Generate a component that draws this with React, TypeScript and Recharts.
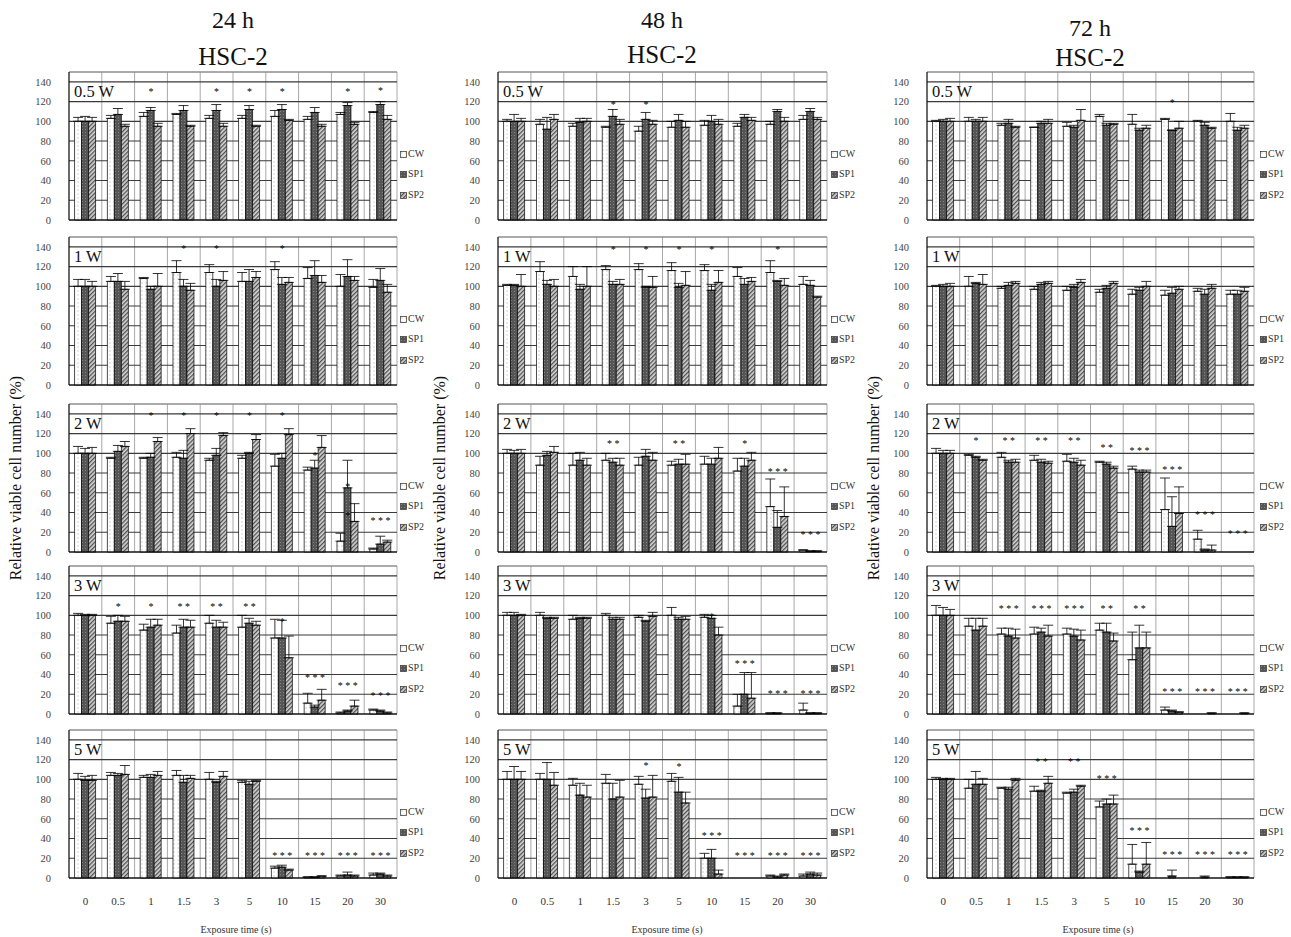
import React from "react";
import {
  BarChart,
  Bar,
  XAxis,
  YAxis,
  CartesianGrid,
  ErrorBar,
  ReferenceDot,
  ReferenceLine,
} from "recharts";

const SERIF = '"Liberation Serif", "Times New Roman", serif';

const times = ["0", "0.5", "1", "1.5", "3", "5", "10", "15", "20", "30"];
const seriesNames = ["CW", "SP1", "SP2"];
const yTicks = [0, 20, 40, 60, 80, 100, 120, 140];
const powers = ["0.5 W", "1 W", "2 W", "3 W", "5 W"];
const hours = ["24 h", "48 h", "72 h"];

// values: [CW, SP1, SP2] per exposure time; errors are the upper SD bars
// ---- 24 h ----
const v24_05 = [
  [100, 103, 105, 107, 103, 103, 105, 102, 107, 109],
  [100, 107, 111, 111, 111, 112, 112, 109, 116, 117],
  [100, 95, 95, 95, 95, 95, 101, 95, 97, 102],
];
const e24_05 = [
  [4, 3, 4, 1, 3, 3, 6, 3, 2, 1],
  [5, 6, 3, 5, 6, 4, 5, 5, 3, 3],
  [4, 2, 3, 1, 3, 1, 1, 2, 2, 4],
];
const s24_05: [string, number, string][] = [
  ["1", 130, "*"], ["3", 130, "*"], ["5", 130, "*"], ["10", 130, "*"], ["20", 130, "*"], ["30", 131, "*"],
];

const v24_1 = [
  [100, 105, 108, 114, 114, 105, 117, 108, 100, 99],
  [100, 105, 97, 100, 100, 105, 102, 111, 110, 106],
  [100, 97, 100, 96, 106, 109, 104, 104, 106, 94],
];
const e24_1 = [
  [7, 5, 1, 12, 8, 9, 8, 11, 12, 8],
  [7, 8, 3, 7, 7, 12, 7, 15, 17, 12],
  [5, 8, 13, 7, 9, 6, 5, 7, 4, 8],
];
const s24_1: [string, number, string][] = [["1.5", 138, "*"], ["3", 138, "*"], ["10", 138, "*"]];

const v24_2 = [
  [100, 95, 95, 96, 93, 95, 87, 83, 11, 3],
  [100, 102, 96, 95, 98, 100, 95, 85, 65, 8],
  [100, 107, 112, 120, 118, 114, 119, 106, 31, 10],
];
const e24_2 = [
  [7, 1, 1, 5, 2, 3, 12, 3, 8, 1],
  [5, 6, 4, 8, 7, 1, 5, 8, 28, 8],
  [6, 5, 4, 5, 3, 5, 6, 12, 18, 2],
];
const s24_2: [string, number, string][] = [
  ["1", 138, "*"], ["1.5", 138, "*"], ["3", 138, "*"], ["5", 138, "*"], ["10", 138, "*"],
  ["15", 98, "*"], ["20", 37, "*"], ["20", 66, "*"], ["30", 32, "* * *"],
];

const v24_3 = [
  [100, 92, 85, 82, 92, 88, 77, 11, 1, 4],
  [100, 94, 88, 88, 88, 92, 77, 7, 3, 3],
  [100, 94, 90, 88, 88, 90, 57, 14, 8, 1],
];
const e24_3 = [
  [2, 7, 6, 8, 8, 12, 19, 10, 1, 1],
  [1, 6, 8, 8, 7, 5, 18, 2, 1, 1],
  [1, 5, 6, 7, 5, 4, 22, 11, 6, 1],
];
const s24_3: [string, number, string][] = [
  ["0.5", 109, "*"], ["1", 109, "*"], ["1.5", 109, "*   *"], ["3", 109, "* *"], ["5", 109, "* *"],
  ["10", 94, "*"], ["15", 37, "* * *"], ["20", 29, "* * *"], ["30", 19, "* * *"],
];

const v24_5 = [
  [100, 104, 102, 104, 100, 97, 10, 1, 2, 3],
  [99, 104, 102, 97, 97, 95, 11, 1, 3, 4],
  [99, 105, 104, 101, 103, 98, 8, 2, 2, 2],
];
const e24_5 = [
  [6, 3, 2, 5, 7, 2, 2, 0, 1, 2],
  [4, 2, 3, 7, 1, 3, 2, 0, 3, 1],
  [5, 9, 4, 3, 5, 1, 1, 0, 1, 1],
];
const s24_5: [string, number, string][] = [
  ["10", 23, "* * *"], ["15", 23, "* * *"], ["20", 23, "* * *"], ["30", 23, "* * *"],
];

// ---- 48 h ----
const v48_05 = [
  [100, 97, 95, 94, 90, 94, 96, 95, 97, 102],
  [100, 92, 99, 105, 102, 101, 100, 104, 110, 110],
  [100, 102, 100, 97, 97, 94, 97, 101, 100, 102],
];
const e48_05 = [
  [2, 5, 3, 1, 5, 6, 5, 3, 3, 4],
  [7, 12, 4, 7, 7, 6, 6, 3, 2, 3],
  [3, 5, 3, 5, 4, 6, 5, 3, 4, 2],
];
const s48_05: [string, number, string][] = [["1.5", 117, "*"], ["3", 117, "*"]];

const v48_1 = [
  [101, 115, 110, 117, 117, 116, 116, 110, 114, 102],
  [101, 102, 97, 102, 99, 99, 96, 102, 105, 101],
  [100, 100, 100, 102, 99, 101, 104, 105, 101, 89],
];
const e48_1 = [
  [1, 10, 10, 4, 6, 8, 6, 9, 12, 8],
  [1, 4, 5, 3, 1, 4, 6, 6, 1, 5],
  [12, 7, 20, 5, 11, 14, 12, 4, 7, 1],
];
const s48_1: [string, number, string][] = [
  ["1.5", 137, "*"], ["3", 137, "*"], ["5", 137, "*"], ["10", 137, "*"], ["20", 137, "*"],
];

const v48_2 = [
  [100, 88, 88, 93, 88, 88, 89, 82, 46, 2],
  [100, 98, 93, 91, 97, 89, 89, 87, 25, 1],
  [100, 101, 88, 88, 93, 89, 95, 93, 36, 1],
];
const e48_2 = [
  [4, 9, 12, 7, 8, 4, 8, 13, 28, 0],
  [3, 4, 8, 4, 7, 5, 6, 8, 17, 0],
  [4, 6, 7, 7, 8, 10, 11, 8, 30, 0],
];
const s48_2: [string, number, string][] = [
  ["1.5", 110, "* *"], ["5", 110, "* *"], ["15", 110, "*"], ["20", 82, "* * *"], ["30", 18, "* * *"],
];

const v48_3 = [
  [100, 100, 96, 100, 98, 100, 98, 8, 1, 4],
  [100, 97, 97, 96, 94, 96, 97, 20, 1, 1],
  [100, 97, 97, 96, 99, 96, 80, 16, 0, 1],
];
const e48_3 = [
  [3, 3, 4, 2, 2, 8, 3, 12, 0, 7],
  [3, 1, 1, 2, 1, 2, 3, 22, 0, 0],
  [1, 1, 1, 2, 4, 3, 8, 26, 0, 0],
];
const s48_3: [string, number, string][] = [
  ["10", 99, "*"], ["15", 51, "* * *"], ["20", 21, "* * *"], ["30", 21, "* * *"],
];

const v48_5 = [
  [100, 100, 94, 96, 95, 98, 20, 0, 2, 2],
  [100, 100, 84, 80, 81, 87, 20, 0, 1, 4],
  [100, 94, 82, 82, 82, 76, 4, 0, 3, 3],
];
const e48_5 = [
  [8, 6, 7, 9, 8, 8, 5, 0, 1, 2],
  [13, 17, 12, 16, 9, 15, 9, 0, 1, 2],
  [8, 13, 12, 17, 22, 11, 4, 0, 1, 2],
];
const s48_5: [string, number, string][] = [
  ["3", 114, "*"], ["5", 113, "*"], ["10", 43, "* * *"], ["15", 23, "* * *"], ["20", 23, "* * *"], ["30", 23, "* * *"],
];

// ---- 72 h ----
const v72_05 = [
  [100, 100, 96, 94, 95, 105, 97, 102, 100, 100],
  [100, 100, 98, 98, 94, 96, 91, 91, 96, 91],
  [100, 100, 94, 98, 101, 97, 93, 93, 93, 93],
];
const e72_05 = [
  [1, 4, 2, 0, 4, 2, 10, 1, 1, 8],
  [2, 2, 4, 2, 2, 2, 2, 0, 3, 3],
  [3, 4, 1, 4, 11, 1, 3, 7, 1, 3],
];
const s72_05: [string, number, string][] = [["15", 119, "*"]];

const v72_1 = [
  [100, 100, 98, 97, 96, 94, 92, 91, 95, 92],
  [100, 103, 101, 102, 99, 98, 96, 93, 92, 92],
  [100, 102, 103, 103, 104, 103, 100, 97, 98, 95],
];
const e72_1 = [
  [1, 10, 2, 3, 4, 3, 5, 5, 3, 4],
  [2, 1, 3, 2, 3, 3, 3, 6, 5, 4],
  [3, 10, 2, 2, 3, 2, 5, 3, 4, 4],
];
const s72_1: [string, number, string][] = [];

const v72_2 = [
  [100, 98, 96, 93, 92, 91, 84, 43, 13, 0],
  [100, 96, 91, 91, 91, 89, 81, 26, 2, 0],
  [100, 93, 91, 90, 88, 85, 81, 39, 2, 0],
];
const e72_2 = [
  [5, 1, 5, 5, 7, 1, 3, 32, 9, 0],
  [3, 1, 2, 3, 4, 2, 2, 30, 1, 0],
  [3, 1, 3, 2, 5, 2, 2, 27, 5, 0],
];
const s72_2: [string, number, string][] = [
  ["0.5", 113, "*"], ["1", 113, "* *"], ["1.5", 113, "* *"], ["3", 113, "* *"], ["5", 106, "* *"],
  ["10", 103, "* * *"], ["15", 84, "* * *"], ["20", 38, "* * *"], ["30", 19, "* * *"],
];

const v72_3 = [
  [100, 89, 81, 81, 81, 85, 55, 4, 0, 0],
  [100, 85, 79, 83, 79, 83, 67, 3, 0, 0],
  [100, 89, 77, 79, 75, 74, 67, 2, 1, 1],
];
const e72_3 = [
  [10, 8, 6, 7, 6, 7, 28, 3, 0, 0],
  [8, 12, 8, 4, 7, 9, 23, 1, 0, 0],
  [6, 8, 9, 11, 10, 8, 16, 0, 0, 0],
];
const s72_3: [string, number, string][] = [
  ["1", 107, "* * *"], ["1.5", 107, "* * *"], ["3", 107, "* * *"], ["5", 107, "* *"], ["10", 107, "* *"],
  ["15", 23, "* * *"], ["20", 23, "* * *"], ["30", 23, "* * *"],
];

const v72_5 = [
  [100, 91, 91, 88, 86, 72, 14, 0, 0, 1],
  [100, 95, 90, 88, 87, 75, 6, 2, 1, 1],
  [100, 95, 99, 96, 93, 75, 14, 0, 0, 1],
];
const e72_5 = [
  [2, 9, 1, 5, 1, 6, 20, 0, 0, 0],
  [1, 13, 2, 1, 3, 5, 1, 6, 1, 0],
  [1, 6, 2, 7, 1, 9, 22, 0, 0, 0],
];
const s72_5: [string, number, string][] = [
  ["1.5", 118, "* *"], ["3", 118, "* *"], ["5", 101, "* * *"], ["10", 48, "* * *"],
  ["15", 24, "* * *"], ["20", 24, "* * *"], ["30", 24, "* * *"],
];

const columns = [
  [[v24_05, e24_05, s24_05], [v24_1, e24_1, s24_1], [v24_2, e24_2, s24_2], [v24_3, e24_3, s24_3], [v24_5, e24_5, s24_5]],
  [[v48_05, e48_05, s48_05], [v48_1, e48_1, s48_1], [v48_2, e48_2, s48_2], [v48_3, e48_3, s48_3], [v48_5, e48_5, s48_5]],
  [[v72_05, e72_05, s72_05], [v72_1, e72_1, s72_1], [v72_2, e72_2, s72_2], [v72_3, e72_3, s72_3], [v72_5, e72_5, s72_5]],
] as any[];

// layout
const COL_X = [69, 498, 927];
const COL_W = [328, 329, 327];
const ROW_TOP = [72, 237, 404, 566, 730];
const PLOT_H = 148;
const Y_W = 45;
const M_TOP = 4;
const M_RIGHT = 4;
const TITLE_X = [233, 662, 1090];
const TITLE_Y = [20, 20, 28];
const HSC_Y = [57, 55, 58];
const YLAB_X = [16, 440, 874];
const XLAB_X = [236, 667, 1098];
const LEGEND_X = [400, 831, 1260];

const FILLS = ["url(#pCW)", "url(#pSP1)", "url(#pSP2)"];
const KEYS = ["cw", "sp1", "sp2"];

function buildRows(v: number[][], e: number[][]) {
  return times.map((t, i) => ({
    time: t,
    cw: v[0][i],
    sp1: v[1][i],
    sp2: v[2][i],
    cwE: [0, e[0][i]],
    sp1E: [0, e[1][i]],
    sp2E: [0, e[2][i]],
  }));
}

const catBounds = (props: any) => {
  const o = props && props.offset;
  if (!o) return [];
  const n = times.length;
  return Array.from({ length: n + 1 }, (_, i) => o.left + (i * o.width) / n);
};

function Panel({ c, r }: { c: number; r: number }) {
  const [v, e, stars] = columns[c][r];
  const rows = buildRows(v, e);
  const last = r === powers.length - 1;
  const xh = last ? 34 : 1;
  const mb = last ? 0 : 8;
  const top = ROW_TOP[r];
  const bottom = top + PLOT_H;
  const left = COL_X[c];
  return (
    <>
      <div style={{ position: "absolute", left: left - Y_W, top: top - M_TOP }}>
        <BarChart
          width={Y_W + COL_W[c] + M_RIGHT}
          height={M_TOP + PLOT_H + xh + mb}
          data={rows}
          margin={{ top: M_TOP, right: M_RIGHT, bottom: mb, left: 0 }}
          barCategoryGap="17%"
          barGap={0}
        >
          <CartesianGrid horizontal={false} stroke="#a8a8a8" verticalCoordinatesGenerator={catBounds} />
          <CartesianGrid vertical={false} stroke="#3a3a3a" strokeWidth={1.1} />
          <ReferenceLine y={150} stroke="#b8b8b8" />
          <XAxis
            dataKey="time"
            height={xh}
            interval={0}
            axisLine={{ stroke: "#000" }}
            tickLine={false}
            tickSize={0}
            tickMargin={19}
            tick={last ? { fontSize: 11, fill: "#333", fontFamily: SERIF } : false}
          />
          <YAxis
            domain={[0, 150]}
            ticks={yTicks}
            width={Y_W}
            interval={0}
            axisLine={{ stroke: "#000" }}
            tickLine={false}
            tickSize={0}
            tickMargin={18}
            tick={{ fontSize: 10.5, fill: "#444", fontFamily: SERIF }}
          />
          {KEYS.map((k, i) => (
            <Bar
              key={k}
              dataKey={k}
              name={seriesNames[i]}
              fill={FILLS[i]}
              stroke="#000"
              strokeWidth={0.7}
              isAnimationActive={false}
            >
              <ErrorBar dataKey={k + "E"} width={5} stroke="#000" strokeWidth={0.8} />
            </Bar>
          ))}
          {(stars as [string, number, string][]).map(([t, y, s], i) => (
            <ReferenceDot
              key={i}
              x={t}
              y={y}
              r={0}
              fill="none"
              stroke="none"
              label={{ value: s, position: "center", fontSize: 10, fill: "#000", fontFamily: SERIF }}
            />
          ))}
        </BarChart>
      </div>
      <div
        style={{
          position: "absolute",
          left: left + 5,
          top: top + 12,
          fontSize: 16.5,
          lineHeight: 1,
          fontFamily: SERIF,
          color: "#111",
        }}
      >
        {powers[r]}
      </div>
      {seriesNames.map((n, i) => (
        <div
          key={n}
          style={{
            position: "absolute",
            left: LEGEND_X[c],
            top: bottom - [66, 46, 25][i] - 6,
            display: "flex",
            alignItems: "center",
            gap: 1,
            fontSize: 10,
            lineHeight: "12px",
            fontFamily: SERIF,
            color: "#333",
          }}
        >
          <svg width={7} height={7}>
            <rect x={0.5} y={0.5} width={6} height={6} fill={FILLS[i]} stroke="#444" strokeWidth={0.8} />
          </svg>
          <span>{n}</span>
        </div>
      ))}
    </>
  );
}

export default function App() {
  return (
    <div
      style={{
        position: "absolute",
        left: 0,
        top: 0,
        width: 1291,
        height: 937,
        background: "#fff",
        fontFamily: SERIF,
        overflow: "hidden",
      }}
    >
      <svg width={0} height={0} style={{ position: "absolute" }}>
        <defs>
          <pattern id="pCW" width={4} height={4} patternUnits="userSpaceOnUse">
            <rect width={4} height={4} fill="#fff" />
            <rect x={1.5} y={1.5} width={1} height={1} fill="#aaa" />
          </pattern>
          <pattern id="pSP1" width={3} height={3} patternUnits="userSpaceOnUse">
            <rect width={3} height={3} fill="#555" />
            <rect x={1} y={1} width={1} height={1} fill="#858585" />
          </pattern>
          <pattern id="pSP2" width={3} height={3} patternUnits="userSpaceOnUse" patternTransform="rotate(45)">
            <rect width={3} height={3} fill="#d6d6d6" />
            <rect width={1.3} height={3} fill="#505050" />
          </pattern>
        </defs>
      </svg>

      {hours.map((h, c) => (
        <React.Fragment key={h}>
          <div
            style={{
              position: "absolute",
              left: TITLE_X[c],
              top: TITLE_Y[c],
              transform: "translate(-50%, -50%)",
              fontSize: 24,
              whiteSpace: "nowrap",
              color: "#111",
            }}
          >
            {h}
          </div>
          <div
            style={{
              position: "absolute",
              left: TITLE_X[c],
              top: HSC_Y[c],
              transform: "translate(-50%, -50%)",
              fontSize: 25,
              whiteSpace: "nowrap",
              color: "#111",
            }}
          >
            HSC-2
          </div>
          <div
            style={{
              position: "absolute",
              left: YLAB_X[c],
              top: 478,
              transform: "translate(-50%, -50%) rotate(-90deg)",
              fontSize: 16,
              whiteSpace: "nowrap",
              color: "#111",
            }}
          >
            Relative viable cell number (%)
          </div>
          <div
            style={{
              position: "absolute",
              left: XLAB_X[c],
              top: 929,
              transform: "translate(-50%, -50%)",
              fontSize: 10,
              whiteSpace: "nowrap",
              color: "#333",
            }}
          >
            Exposure time (s)
          </div>
          {powers.map((p, r) => (
            <Panel key={p} c={c} r={r} />
          ))}
        </React.Fragment>
      ))}
    </div>
  );
}
